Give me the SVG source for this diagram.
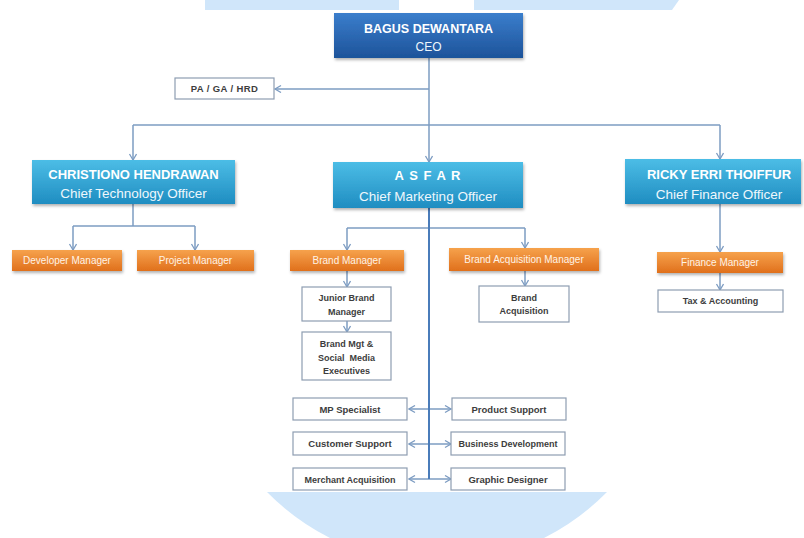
<svg xmlns="http://www.w3.org/2000/svg" width="804" height="538" viewBox="0 0 804 538">
<defs>
<linearGradient id="gCeo" x1="0" y1="0" x2="0" y2="1"><stop offset="0" stop-color="#3b7ecc"/><stop offset="1" stop-color="#1d539a"/></linearGradient>
<linearGradient id="gCx" x1="0" y1="0" x2="0" y2="1"><stop offset="0" stop-color="#4cbde6"/><stop offset="1" stop-color="#1f8dc1"/></linearGradient>
<linearGradient id="gOr" x1="0" y1="0" x2="0" y2="1"><stop offset="0" stop-color="#f6a24c"/><stop offset="1" stop-color="#e0701c"/></linearGradient>
<filter id="sh" x="-10%" y="-20%" width="120%" height="150%"><feDropShadow dx="1" dy="2" stdDeviation="1.5" flood-color="#000" flood-opacity="0.3"/></filter>
<marker id="ah" markerWidth="10" markerHeight="10" refX="7.5" refY="4" orient="auto" markerUnits="userSpaceOnUse"><path d="M1.5,0.5 L7.5,4 L1.5,7.5" fill="none" stroke="#7d9cc2" stroke-width="1.3"/></marker>
<marker id="ahs" markerWidth="10" markerHeight="10" refX="1.5" refY="4" orient="auto" markerUnits="userSpaceOnUse"><path d="M7.5,0.5 L1.5,4 L7.5,7.5" fill="none" stroke="#7d9cc2" stroke-width="1.3"/></marker>
</defs>
<style>
text{font-family:"Liberation Sans",Arial,sans-serif;text-anchor:middle}
.ceo{fill:url(#gCeo);filter:url(#sh)}
.cx{fill:url(#gCx);filter:url(#sh)}
.or{fill:url(#gOr);filter:url(#sh)}
.wb{fill:#fff;stroke:#8e9db1;stroke-width:1.2}
.t1{fill:#fff;font-weight:bold;font-size:13px}
.t2{fill:#eef7fc;font-size:13.5px}
.to{fill:#fff3e6;font-size:10px}
.tw{fill:#3d3d3d;font-weight:bold;font-size:9px}
.ln{fill:none;stroke:#7d9cc2;stroke-width:1.5}
.main{fill:none;stroke:#4a7cba;stroke-width:2}
</style>
<rect width="804" height="538" fill="#fff"/>
<g id="watermark" fill="#d0e6fa">
<rect x="205" y="0" width="194" height="10"/>
<polygon points="474,0 679,0 672,10 474,10"/>
<path d="M267,492 L607,492 A238,238 0 0 1 544,538 L330,538 A238,238 0 0 1 267,492 Z"/>
</g>
<g id="connectors">
<line class="ln" x1="429" y1="58" x2="429" y2="162" marker-end="url(#ah)"/>
<line class="ln" x1="429" y1="89" x2="275" y2="89" marker-end="url(#ah)"/>
<line class="ln" x1="133" y1="125" x2="720" y2="125"/>
<line class="ln" x1="133" y1="125" x2="133" y2="160" marker-end="url(#ah)"/>
<line class="ln" x1="720" y1="125" x2="720" y2="159" marker-end="url(#ah)"/>
<line class="ln" x1="133" y1="204" x2="133" y2="226"/>
<line class="ln" x1="73" y1="226" x2="195" y2="226"/>
<line class="ln" x1="73" y1="226" x2="73" y2="250" marker-end="url(#ah)"/>
<line class="ln" x1="195" y1="226" x2="195" y2="250" marker-end="url(#ah)"/>
<line class="ln" x1="347" y1="228" x2="525" y2="228"/>
<line class="ln" x1="347" y1="228" x2="347" y2="250" marker-end="url(#ah)"/>
<line class="ln" x1="525" y1="228" x2="525" y2="248" marker-end="url(#ah)"/>
<line class="ln" x1="347" y1="271" x2="347" y2="287" marker-end="url(#ah)"/>
<line class="ln" x1="347" y1="321" x2="347" y2="332" marker-end="url(#ah)"/>
<line class="ln" x1="525" y1="271" x2="525" y2="286" marker-end="url(#ah)"/>
<line class="ln" x1="720" y1="204" x2="720" y2="252" marker-end="url(#ah)"/>
<line class="ln" x1="720" y1="273" x2="720" y2="290" marker-end="url(#ah)"/>
<line class="ln" x1="409" y1="409" x2="451" y2="409" marker-start="url(#ahs)" marker-end="url(#ah)"/>
<line class="ln" x1="409" y1="444" x2="451" y2="444" marker-start="url(#ahs)" marker-end="url(#ah)"/>
<line class="ln" x1="409" y1="479" x2="451" y2="479" marker-start="url(#ahs)" marker-end="url(#ah)"/>
<line class="main" x1="429" y1="208" x2="429" y2="479"/>
</g>
<g id="ceo"><rect class="ceo" x="334" y="13" width="189" height="45"/><text class="t1" x="428.5" y="32.5" style="font-size:12.5px">BAGUS DEWANTARA</text><text class="t2" x="428.5" y="51" style="font-size:12px">CEO</text></g>
<g id="pa"><rect class="wb" x="175" y="78" width="99" height="21"/><text class="tw" x="224.5" y="92" style="font-size:9.5px;letter-spacing:0.4px">PA / GA / HRD</text></g>
<g id="cto"><rect class="cx" x="32" y="160" width="203" height="44"/><text class="t1" x="133.5" y="178.5">CHRISTIONO HENDRAWAN</text><text class="t2" x="133.5" y="197.5">Chief Technology Officer</text></g>
<g id="cmo"><rect class="cx" x="333" y="162" width="190" height="46"/><text class="t1" x="428" y="179.5" style="letter-spacing:1px">A S F A R</text><text class="t2" x="428" y="200.5">Chief Marketing Officer</text></g>
<g id="cfo"><rect class="cx" x="625" y="159" width="176" height="45"/><text class="t1" x="719" y="178.5">RICKY ERRI THOIFFUR</text><text class="t2" x="719" y="198.5">Chief Finance Officer</text></g>
<g id="dev"><rect class="or" x="12" y="250" width="110" height="21"/><text class="to" x="67" y="264">Developer Manager</text></g>
<g id="pm"><rect class="or" x="137" y="250" width="117" height="21"/><text class="to" x="195.5" y="264">Project Manager</text></g>
<g id="bm"><rect class="or" x="290" y="250" width="114" height="21"/><text class="to" x="347" y="264">Brand Manager</text></g>
<g id="bam"><rect class="or" x="449" y="248" width="150" height="23"/><text class="to" x="524" y="263">Brand Acquisition Manager</text></g>
<g id="fm"><rect class="or" x="657" y="252" width="126" height="21"/><text class="to" x="720" y="266">Finance Manager</text></g>
<g id="jbm"><rect class="wb" x="302" y="287" width="89" height="34"/><text class="tw" x="346.5" y="301">Junior Brand</text><text class="tw" x="346.5" y="315">Manager</text></g>
<g id="bmsm"><rect class="wb" x="302" y="332" width="89" height="48"/><text class="tw" x="346.5" y="347">Brand Mgt &amp;</text><text class="tw" x="346.5" y="361" xml:space="preserve">Social  Media</text><text class="tw" x="346.5" y="374">Executives</text></g>
<g id="ba"><rect class="wb" x="479" y="286" width="90" height="36"/><text class="tw" x="524" y="301">Brand</text><text class="tw" x="524" y="314">Acquisition</text></g>
<g id="tax"><rect class="wb" x="658" y="290" width="125" height="22"/><text class="tw" x="720.5" y="304">Tax &amp; Accounting</text></g>
<g id="mps"><rect class="wb" x="293" y="398" width="114" height="22"/><text class="tw" x="350" y="412.5" style="font-size:9.5px">MP Specialist</text></g>
<g id="ps"><rect class="wb" x="452" y="398" width="114" height="22"/><text class="tw" x="509" y="412.5" style="font-size:9.5px">Product Support</text></g>
<g id="cs"><rect class="wb" x="293" y="432" width="114" height="23"/><text class="tw" x="350" y="447" style="font-size:9.5px">Customer Support</text></g>
<g id="bd"><rect class="wb" x="451" y="432" width="114" height="23"/><text class="tw" x="508" y="447">Business Development</text></g>
<g id="ma"><rect class="wb" x="293" y="468" width="114" height="22"/><text class="tw" x="350" y="482.5">Merchant Acquisition</text></g>
<g id="gd"><rect class="wb" x="451" y="468" width="114" height="22"/><text class="tw" x="508" y="482.5" style="font-size:9.5px">Graphic Designer</text></g>
</svg>
